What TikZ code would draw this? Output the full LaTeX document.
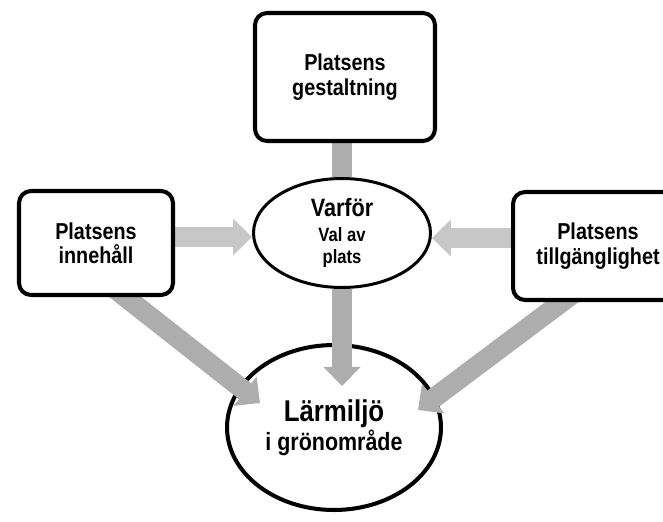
\documentclass[tikz,border=0pt]{standalone}
\usepackage{fontspec}
\setmainfont[FakeStretch=0.86]{Liberation Sans}
\usetikzlibrary{positioning, shapes.geometric, arrows.meta}
\pgfdeclarelayer{back}
\pgfdeclarelayer{arrowlayer}
\pgfsetlayers{back,arrowlayer,main}
\definecolor{slablight}{gray}{0.78}
\definecolor{slabdark}{gray}{0.68}
\tikzset{
  platsbox/.style={draw, line width=2.3pt, rounded corners=0.24cm, fill=white,
    align=center, inner sep=0pt, font=\bfseries\fontsize{13.1}{13.8}\selectfont},
  oval/.style={draw, ellipse, align=center, inner sep=0pt},
  slab/.style={line width=0.4cm, draw=#1},
  blockarrow/.style={slab=#1, -{Triangle[length=0.38cm,width=0.72cm]}}}

\begin{document}
\begin{tikzpicture}[x=0.02cm, y=-0.02cm]
	\useasboundingbox (0,0) rectangle (663,521);
	\begin{pgfonlayer}{back}
		\node[oval, line width=2.3pt, minimum width=4.28cm, minimum height=3.3cm,
			font=\bfseries\fontsize{14.2}{14.4}\selectfont] (bot) at (334,427.5)
			{{\fontsize{17.1}{18}\selectfont Lärmiljö}\\ i grönområde};
	\end{pgfonlayer}
	\node[platsbox, minimum width=3.6cm, minimum height=2.56cm] (top) at (345,77) {Platsens\\ gestaltning};
	\node[platsbox, minimum width=3.08cm, minimum height=2.08cm] (lbox) at (96,243) {Platsens\\ innehåll};
	\node[platsbox, minimum width=3.4cm, minimum height=2.16cm] (rbox) at (598,246) {Platsens\\ tillgänglighet};
	\node[oval, fill=white, line width=1.7pt, minimum width=3.54cm, minimum height=2.18cm,
		font=\bfseries\fontsize{11}{12.5}\selectfont] (mid) at (342,233)
		{{\fontsize{14.3}{15}\selectfont Varför}\\[1.7pt] Val av\\ plats};
	\begin{pgfonlayer}{arrowlayer}
		\draw[slab=slabdark] (top.south -| mid) -- (mid);
		\draw[blockarrow=slablight] ([yshift=0.12cm]lbox.east) coordinate (la) -- (la -| mid.west);
		\draw[blockarrow=slablight] ([yshift=0.16cm]rbox.west) coordinate (ra) -- (ra -| mid.east);
		\coordinate (vtip) at ([yshift=-0.86cm]bot.north);
		\draw[blockarrow=slabdark] (mid) -- (mid |- vtip);
		\draw[blockarrow=slabdark] ([xshift=0.18cm,yshift=-0.76cm]lbox.center) -- ([xshift=-1.48cm,yshift=0.49cm]bot.center);
		\draw[blockarrow=slabdark] ([xshift=-0.4cm,yshift=-0.88cm]rbox.center) -- ([xshift=1.68cm,yshift=0.35cm]bot.center);
	\end{pgfonlayer}
\end{tikzpicture}
\end{document}
